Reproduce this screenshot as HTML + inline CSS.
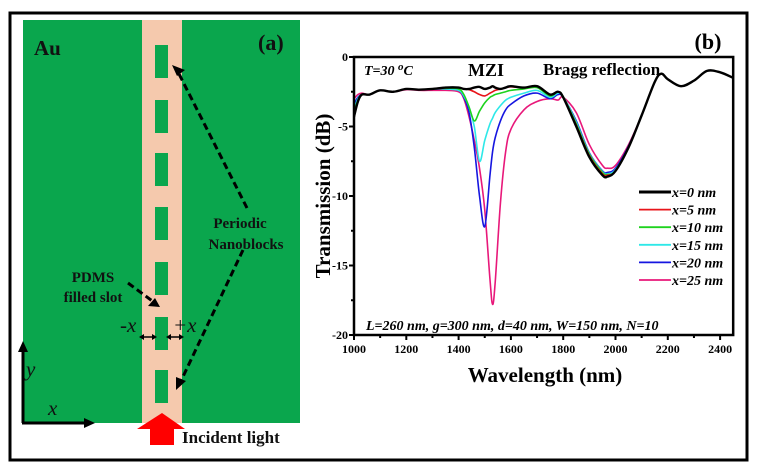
<!DOCTYPE html>
<html><head><meta charset="utf-8"><style>
body{margin:0;background:#fff}
svg{display:block;font-family:"Liberation Serif",serif}
</style></head><body>
<svg id="fig" width="758" height="472" viewBox="0 0 758 472">
<rect x="10" y="13" width="737" height="447" fill="#fff" stroke="#000" stroke-width="3"/>
<g>
<rect x="23" y="20" width="277" height="403" fill="#0aa64d"/>
<rect x="142" y="20" width="40" height="403" fill="#f5c9ad"/>
<g fill="#0aa64d">
<rect x="155" y="45" width="13" height="33"/><rect x="155" y="100" width="13" height="33"/><rect x="155" y="153" width="13" height="33"/><rect x="155" y="207" width="13" height="33"/><rect x="155" y="262" width="13" height="33"/><rect x="155" y="317" width="13" height="33"/><rect x="155" y="370" width="13" height="33"/>
</g>
<text x="34" y="55" font-size="21" font-weight="bold" fill="#111">Au</text>
<text x="258" y="50" font-size="22" font-weight="bold" fill="#111">(a)</text>
<text x="240" y="228" font-size="15" font-weight="bold" fill="#111" text-anchor="middle"><tspan x="240">Periodic</tspan><tspan x="246" dy="21">Nanoblocks</tspan></text>
<text x="93" y="282" font-size="15" font-weight="bold" fill="#111" text-anchor="middle"><tspan x="93">PDMS</tspan><tspan x="93" dy="20">filled slot</tspan></text>
<g stroke="#000" stroke-width="3" stroke-dasharray="7,4" fill="none">
<line x1="247" y1="208" x2="177" y2="70"/><line x1="243" y1="250" x2="180" y2="383"/><line x1="128" y1="283" x2="155" y2="303"/>
</g>
<g fill="#000">
<polygon points="172,65 185,70 177,76"/><polygon points="176,390 176,377 186,381"/><polygon points="160,307 148,306 155,298"/>
</g>
<text x="120" y="332" font-size="21" font-style="italic" fill="#111">-x</text>
<text x="173" y="332" font-size="21" font-style="italic" fill="#111">+x</text>
<g stroke="#000" stroke-width="1.5"><line x1="141" y1="337" x2="155" y2="337"/><line x1="168" y1="337" x2="182" y2="337"/></g>
<g fill="#000"><polygon points="139,337 144,334 144,340"/><polygon points="157,337 152,334 152,340"/><polygon points="166,337 171,334 171,340"/><polygon points="184,337 179,334 179,340"/></g>
<g stroke="#000" stroke-width="3"><line x1="23" y1="423" x2="23" y2="348"/><line x1="22" y1="423" x2="88" y2="423"/></g>
<polygon points="23,341 18,352 28,352" fill="#000"/><polygon points="95,423 84,418 84,428" fill="#000"/>
<text x="26" y="376" font-size="21" font-style="italic" fill="#111">y</text>
<text x="48" y="415" font-size="21" font-style="italic" fill="#111">x</text>
<polygon points="162,413 185,429 174,429 174,445 150,445 150,429 137,429" fill="#f00"/>
<text x="182" y="443" font-size="17" font-weight="bold" fill="#111">Incident light</text>
</g>
<g id="chart"></g>
</svg>
<script>
const wavelengths=[1000,1015,1030,1060,1100,1150,1200,1250,1300,1350,1400,1420,1440,1460,1480,1500,1520,1530,1540,1560,1580,1600,1650,1700,1750,1780,1800,1850,1900,1950,1970,2000,2050,2100,2150,2175,2200,2250,2300,2350,2400,2450];
const seriesX0=[-4.3,-3.2,-2.7,-2.7,-2.4,-2.5,-2.3,-2.35,-2.3,-2.2,-2.2,-2.3,-2.3,-2.2,-2.15,-2.3,-2.2,-2.1,-2.2,-2.3,-2.2,-2.1,-2.2,-2.1,-2.7,-2.5,-2.9,-5.0,-7.2,-8.5,-8.6,-8.2,-6.5,-4.2,-1.8,-1.2,-1.6,-2.1,-1.7,-1.0,-1.1,-1.5];
const seriesX5=[-4.2,-3.2,-2.7,-2.7,-2.4,-2.5,-2.3,-2.35,-2.3,-2.2,-2.2,-2.3,-2.35,-2.5,-2.7,-2.8,-2.6,-2.5,-2.4,-2.3,-2.2,-2.15,-2.2,-2.1,-2.7,-2.5,-2.9,-4.9,-7.1,-8.4,-8.5,-8.2,-6.5,-4.2,-1.8,-1.2,-1.6,-2.1,-1.7,-1.0,-1.1,-1.5];
const seriesX10=[-4.0,-3.1,-2.7,-2.7,-2.4,-2.5,-2.3,-2.35,-2.3,-2.25,-2.3,-2.7,-3.6,-4.6,-3.9,-3.3,-2.9,-2.8,-2.7,-2.6,-2.5,-2.4,-2.3,-2.2,-2.8,-2.5,-2.85,-4.8,-7.0,-8.3,-8.45,-8.2,-6.5,-4.2,-1.8,-1.2,-1.6,-2.1,-1.7,-1.0,-1.1,-1.5];
const seriesX15=[-3.8,-3.0,-2.7,-2.7,-2.4,-2.5,-2.3,-2.35,-2.3,-2.3,-2.4,-2.8,-3.6,-5.0,-7.5,-6.0,-4.8,-4.4,-4.0,-3.5,-3.1,-2.9,-2.6,-2.4,-2.9,-2.6,-2.85,-4.7,-6.95,-8.25,-8.4,-8.1,-6.5,-4.2,-1.8,-1.2,-1.6,-2.1,-1.7,-1.0,-1.1,-1.5];
const seriesX20=[-3.4,-2.9,-2.7,-2.7,-2.4,-2.5,-2.3,-2.35,-2.3,-2.3,-2.4,-2.9,-4.0,-6.5,-10.0,-12.2,-8.5,-6.8,-5.8,-4.6,-3.8,-3.4,-2.8,-2.6,-3.0,-2.7,-2.9,-4.6,-6.9,-8.2,-8.3,-8.0,-6.4,-4.2,-1.8,-1.2,-1.6,-2.1,-1.7,-1.0,-1.1,-1.5];
const seriesX25=[-3.0,-2.7,-2.6,-2.7,-2.4,-2.5,-2.35,-2.4,-2.4,-2.4,-2.5,-3.0,-4.3,-6.0,-8.0,-11.0,-16.0,-17.8,-16.2,-10.5,-6.8,-5.2,-3.8,-3.2,-3.0,-3.1,-2.9,-4.0,-6.3,-7.8,-8.0,-7.8,-6.3,-4.2,-1.8,-1.2,-1.6,-2.1,-1.7,-1.0,-1.1,-1.5];
const seriesNames=["x=0 nm","x=5 nm","x=10 nm","x=15 nm","x=20 nm","x=25 nm"];
const seriesColors=["#000","#e8141a","#1ed31e","#2ee8e8","#1616e0","#e8187a"];
const xTicks=[1000,1200,1400,1600,1800,2000,2200,2400];
const yTicks=[0,-5,-10,-15,-20];

const NS="http://www.w3.org/2000/svg";
const g=document.getElementById('chart');
const X=v=>354+(v-1000)/200*52.3;
const Y=v=>57-v*13.9;
function mk(t,a,p){const e=document.createElementNS(NS,t);for(const k in a)e.setAttribute(k,a[k]);(p||g).appendChild(e);return e;}
const L=X(1000), R=X(2450), T=Y(0), B=Y(-20);
const all=[seriesX0,seriesX5,seriesX10,seriesX15,seriesX20,seriesX25];
const clip=mk('clipPath',{id:'pc'});mk('rect',{x:L,y:T,width:R-L,height:B-T},clip);
for(let s=all.length-1;s>=0;s--){
  const pts=wavelengths.map((w,i)=>[X(w),Y(all[s][i])]);
  let d='M'+pts[0][0]+','+pts[0][1];
  for(let i=0;i<pts.length-1;i++){
    const p0=pts[Math.max(0,i-1)],p1=pts[i],p2=pts[i+1],p3=pts[Math.min(pts.length-1,i+2)];
    const c1=[p1[0]+(p2[0]-p0[0])/6,p1[1]+(p2[1]-p0[1])/6],c2=[p2[0]-(p3[0]-p1[0])/6,p2[1]-(p3[1]-p1[1])/6];
    d+=`C${c1[0]},${c1[1]} ${c2[0]},${c2[1]} ${p2[0]},${p2[1]}`;
  }
  const p=mk('path',{d:d,fill:'none',stroke:seriesColors[s],'stroke-width':s==0?2.4:1.6,'clip-path':'url(#pc)'});
  
  
}
const fr=mk('rect',{x:L,y:T,width:R-L,height:B-T,fill:'none',stroke:'#000','stroke-width':2.5});


for(let v=1000;v<=2400;v+=100){mk('line',{x1:X(v),x2:X(v),y1:B,y2:B+(v%200==0?5:3),stroke:'#000','stroke-width':2});}
xTicks.forEach(v=>{const t=mk('text',{x:X(v),y:B+18,'font-size':12,'font-weight':'bold','text-anchor':'middle'});t.textContent=v;

});
for(let v=0;v>=-20;v-=2.5){mk('line',{x1:L-(v%5==0?5:3),x2:L,y1:Y(v),y2:Y(v),stroke:'#000','stroke-width':2});}
yTicks.forEach(v=>{const t=mk('text',{x:L-6,y:Y(v)+4,'font-size':12,'font-weight':'bold','text-anchor':'end'});t.textContent=v;

});
function txt(x,y,s,attrs,name){const t=mk('text',Object.assign({x:x,y:y},attrs));t.textContent=s;

return t;}
txt(545,382,'Wavelength (nm)',{'font-size':21,'font-weight':'bold','text-anchor':'middle'},'x-axis-title');
txt(0,0,'Transmission (dB)',{'font-size':21,'font-weight':'bold','text-anchor':'middle',transform:`translate(330,196) rotate(-90)`},'y-axis-title');
txt(708,49,'(b)',{'font-size':22,'font-weight':'bold','text-anchor':'middle'},'panel-b-label');
const tt=txt(364,75,'',{'font-size':14,'font-weight':'bold','font-style':'italic'},'temperature-label');
tt.innerHTML='T=30 <tspan dy="-5" font-size="11">o</tspan><tspan dy="5">C</tspan>';
txt(468,76,'MZI',{'font-size':18,'font-weight':'bold'},'mzi-label');
txt(543,75,'Bragg reflection',{'font-size':17,'font-weight':'bold'},'bragg-label');
txt(366,330,'L=260 nm, g=300 nm, d=40 nm, W=150 nm, N=10',{'font-size':14,'font-weight':'bold','font-style':'italic'},'parameters-label');
seriesNames.forEach((n,i)=>{const y=192+i*17.6;
const ln=mk('line',{x1:639,x2:671,y1:y,y2:y,stroke:seriesColors[i],'stroke-width':i==0?3:1.8});


txt(672,y+5,n,{'font-size':14,'font-weight':'bold','font-style':'italic'},'legend-entry');});
</script>
</body></html>
